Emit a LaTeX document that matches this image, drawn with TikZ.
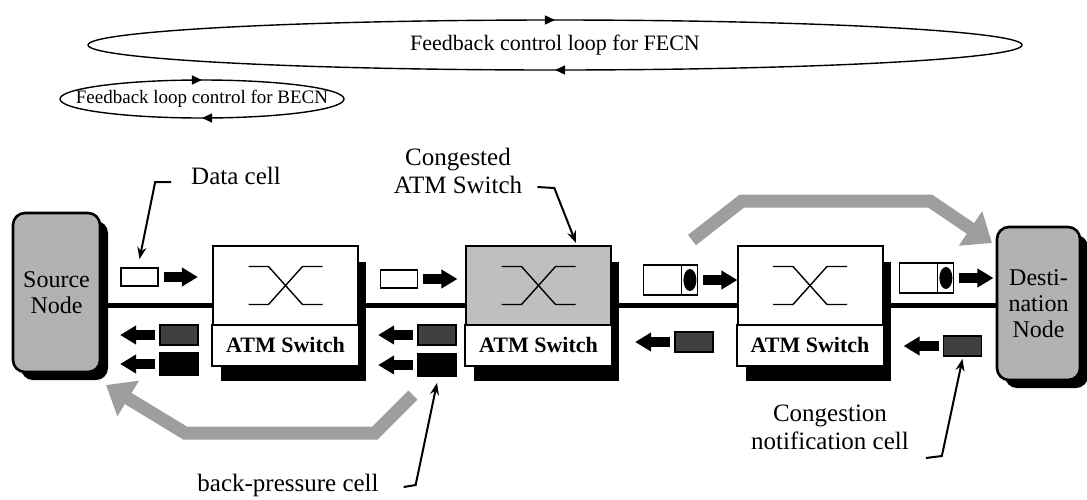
\documentclass[tikz,border=0pt]{standalone}
\usepackage{fontspec}
\setmainfont{Liberation Serif}
\usetikzlibrary{arrows.meta,shadows,decorations.markings}

\begin{document}
\begin{tikzpicture}[
  x=0.5pt, y=-0.5pt,
  >=Stealth,
  endnode/.style={draw, line width=1.3pt, rounded corners=6pt, fill=black!30, align=center,
    inner sep=1pt, font=\fontsize{12}{13}\selectfont,
    drop shadow={shadow xshift=4pt, shadow yshift=-4pt, fill=black, opacity=1}},
  switchbox/.style={draw, line width=1pt, fill=white, minimum width=72.5pt, minimum height=59.5pt,
    inner sep=0pt, drop shadow={shadow xshift=4pt, shadow yshift=-8pt, fill=black, opacity=1}},
  cellbox/.style={draw, line width=0.9pt, fill=white, minimum width=18.5pt, minimum height=9pt, inner sep=0pt},
  dotcell/.style={cellbox, minimum width=27pt, minimum height=15pt},
  bpcell/.style={cellbox, fill=black!75, minimum width=19pt, minimum height=10pt},
  blkcell/.style={cellbox, fill=black, minimum width=19pt, minimum height=11pt},
  blockarrow/.style={line width=5pt, -{Triangle[length=8pt,width=9pt]}},
  grayband/.style={line width=6.5pt, draw=black!38, -{Triangle[length=13pt,width=20pt]}},
  link/.style={line width=2.5pt},
  callout/.style={line width=1pt, -{Stealth[length=6pt,width=4.5pt]}},
  caption/.style={font=\fontsize{12.5}{14}\selectfont, align=center},
  looplabel/.style={font=\fontsize{11}{13}\selectfont},
  loopline/.style={line width=0.7pt, postaction={decorate}, decoration={markings,
      mark=at position 0.25 with {\arrow{Triangle[length=5pt,width=4.5pt]}},
      mark=at position 0.75 with {\arrow{Triangle[length=5pt,width=4.5pt]}}}},
  xline/.style={line width=0.7pt}
]
\useasboundingbox (0,0) rectangle (1087,499);

% feedback loops
\node[looplabel] (fecn) at (555,45) {Feedback control loop for FECN};
\draw[loopline] ([shift={(-467,0)}]fecn.center) arc[start angle=180, end angle=540, x radius=467, y radius=25];
\node[looplabel, font=\fontsize{9.5}{11}\selectfont] (becn) at (202,99) {Feedback loop control for BECN};
\draw[loopline] ([shift={(-142,0)}]becn.center) arc[start angle=180, end angle=540, x radius=142, y radius=19];

% gray flow arrows
\draw[grayband] (692,240) -- (742,201) -- (930,201) -- (992,243);
\draw[grayband] (413,395) -- (375,433) -- (185,433) -- (106,385);

% end nodes
\node[endnode, minimum width=43.5pt, minimum height=79.5pt] (src) at (56.5,292.5) {Source\\Node};
\node[endnode, minimum width=41.5pt, minimum height=76.5pt] (dst) at (1038.5,303.5) {Desti-\\nation\\Node};

% switches
\node[switchbox] (sw1) at (285.5,305.5) {};
\node[switchbox, fill=black!25] (sw2) at (538.5,305.5) {};
\node[switchbox] (sw3) at (810,305.5) {};
\foreach \s in {sw1,sw2,sw3}{
  \draw[line width=1pt, fill=white] ([shift={(0,19.5)}]\s.west) rectangle (\s.south east);
  \node[font=\bfseries\fontsize{11}{13}\selectfont] (\s-lbl) at ([shift={(0,39.5)}]\s.center) {ATM Switch};
  \draw[xline] ([shift={(-37,-39)}]\s.center) -- ++(20,0) -- ++(34,38) -- ++(20,0);
  \draw[xline] ([shift={(-37,-1)}]\s.center) -- ++(20,0) -- ++(34,-38) -- ++(20,0);
}

% links
\draw[link] (src.east |- sw1.west) -- (sw1.west);
\draw[link] (sw1.east) -- (sw2.west);
\draw[link] (sw2.east) -- (sw3.west);
\draw[link] (sw3.east) -- (sw3.east -| dst.west);

% cells
\node[cellbox] (d1) at (139.5,277) {};
\node[cellbox] (d2) at (399,279) {};
\node[dotcell] (f1) at (670.5,280) {};
\node[dotcell] (f2) at (926.5,278) {};
\node[bpcell] (b1) at (179,335) {};
\node[blkcell] (k1) at (179,364) {};
\node[bpcell] (b2) at (437,335) {};
\node[blkcell] (k2) at (437,365) {};
\node[bpcell] (b3) at (694,342) {};
\node[bpcell] (cn) at (962.5,346) {};
\foreach \c in {f1,f2}{
  \draw[line width=0.9pt] ([shift={(-17,0)}]\c.north east) -- ([shift={(-17,0)}]\c.south east);
  \fill ([shift={(-8.5,0)}]\c.east) ellipse [x radius=6.5, y radius=11];
}
\foreach \c in {d1,d2,f1,f2}
  \draw[blockarrow] ([xshift=2.5pt]\c.east) -- ++(34,0);
\foreach \c in {b1,k1,b2,k2,b3,cn}
  \draw[blockarrow] ([xshift=-2pt]\c.west) -- ++(-35,0);

% callouts
\node[caption] (datalbl) at (236,176) {Data cell};
\draw[callout] ([xshift=-6.5pt,yshift=-3pt]datalbl.west) -- ++(-16,0) -- ([yshift=4pt]d1.north);
\node[caption] (conglbl) at (458,171) {Congested\\ATM Switch};
\draw[callout] ([xshift=4pt,yshift=-8pt]conglbl.east) -- ++(17,1) -- ([xshift=18.75pt,yshift=1pt]sw2.north);
\node[caption] (bplbl) at (288,485) {back-pressure cell};
\draw[callout] ([xshift=9pt,yshift=-1pt]bplbl.east) -- ++(12,-2) -- ([yshift=-3pt]k2.south);
\node[caption] (cnlbl) at (830,427) {Congestion\\notification cell};
\draw[callout] ([xshift=5pt,yshift=-15.5pt]cnlbl.east) -- ++(16,-2) -- ([yshift=-1pt]cn.south);
\end{tikzpicture}
\end{document}
